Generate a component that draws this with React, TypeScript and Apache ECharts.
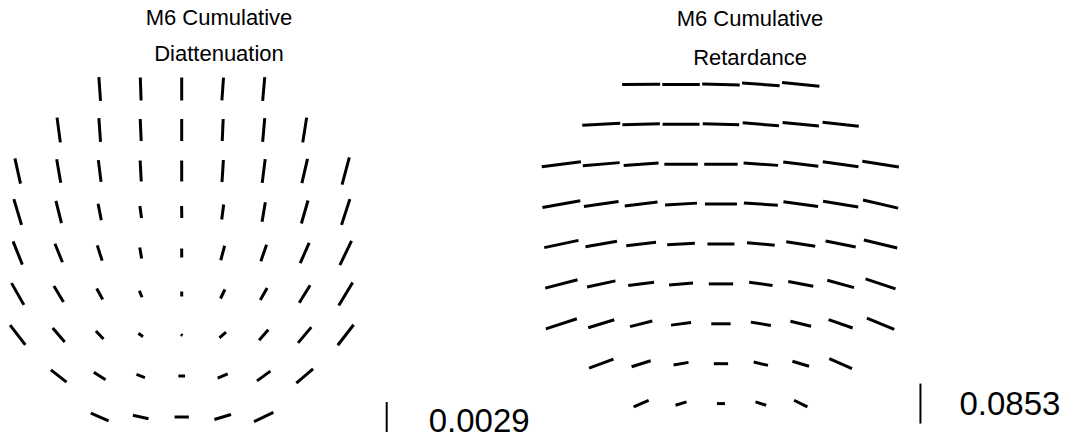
import React, { useEffect, useRef } from "react";
import * as echarts from "echarts";

// Pupil sampling: rows top -> bottom, each row centred on the pupil axis
const rowCounts = [5, 7, 9, 9, 9, 9, 9, 7, 5];

// M6 cumulative diattenuation: magnitude per sample
const diatMag = [
  [0.00232, 0.00222, 0.00222, 0.00222, 0.00232],
  [0.00242, 0.00232, 0.00213, 0.00213, 0.00213, 0.00232, 0.00242],
  [0.00251, 0.00232, 0.00213, 0.00203, 0.00203, 0.00213, 0.00232, 0.00242, 0.00271],
  [0.00261, 0.00222, 0.00164, 0.00116, 0.00116, 0.00145, 0.00193, 0.00232, 0.00261],
  [0.00242, 0.00193, 0.00155, 0.00106, 0.00087, 0.00145, 0.0017, 0.00213, 0.00261],
  [0.00242, 0.00181, 0.00121, 0.00068, 0.00048, 0.00097, 0.00135, 0.00198, 0.00261],
  [0.00242, 0.00178, 0.00106, 0.00055, 0.00019, 0.00084, 0.00135, 0.00199, 0.00251],
  [0.00193, 0.00135, 0.00087, 0.00065, 0.00106, 0.0016, 0.00213],
  [0.00187, 0.00155, 0.00138, 0.00168, 0.00208],
];
// orientation (degrees, counter-clockwise from +x)
const diatAngle = [
  [94, 92, 90, 86, 85],
  [97.6, 94, 92.5, 90, 87.5, 85, 81],
  [102.5, 99.7, 97, 93, 90, 86.5, 83, 77, 75],
  [106.6, 104, 101, 98, 91, 82.5, 80.5, 74, 72],
  [111.8, 112, 107.7, 100, 90, 75, 71, 66, 64.4],
  [119.6, 121, 118.6, 111.8, 90, 64.3, 60.4, 58, 59],
  [127.5, 130.6, 133.8, 144, 150, 40.4, 49, 50, 52.3],
  [141.8, 147, 160, 180, 23.4, 36, 40.7],
  [156.5, 167, 180, 16.7, 25.8],
];

// M6 cumulative retardance: magnitude per sample
const retMag = [
  [0.081, 0.08, 0.08, 0.08, 0.08],
  [0.081, 0.08, 0.0789, 0.0778, 0.0778, 0.0778, 0.0778],
  [0.0842, 0.0789, 0.0746, 0.0714, 0.0714, 0.0736, 0.0753, 0.0768, 0.0789],
  [0.0821, 0.0746, 0.0704, 0.0682, 0.0682, 0.0725, 0.0746, 0.0759, 0.0768],
  [0.0746, 0.0682, 0.064, 0.0591, 0.0576, 0.0593, 0.0625, 0.0653, 0.0731],
  [0.0712, 0.0618, 0.0554, 0.0512, 0.0518, 0.0503, 0.0542, 0.0591, 0.0674],
  [0.0695, 0.058, 0.049, 0.0431, 0.0412, 0.0433, 0.0454, 0.0542, 0.0631],
  [0.0554, 0.0426, 0.0324, 0.0305, 0.0313, 0.0371, 0.0529],
  [0.035, 0.0245, 0.0171, 0.0239, 0.0318],
];
const retAngle = [
  [0.5, 0, -1.5, -4, -6],
  [3, 1.5, 0, -1.5, -4.5, -5.5, -6.5],
  [7.3, 4.9, 4.1, 0, 0, -3.9, -7, -8, -9],
  [10.2, 8.2, 7, 3.5, 0, -4, -8, -9.2, -13],
  [12, 10, 7, 3.4, 0, -4.8, -8.5, -11.3, -13.5],
  [14.5, 12, 7.4, 4.8, 0, -8, -10.6, -15.4, -18.4],
  [17.9, 17.1, 14.2, 7.6, 0, -9.5, -13.6, -19.1, -22.5],
  [20.3, 17.5, 10, 0, -13, -16.7, -23.8],
  [24, 16.9, 0, -17.4, -26.6],
];

const diatScale = 0.0029;
const retScale = 0.0853;
const diatTitle = ["M6 Cumulative", "Diattenuation"];
const retTitle = ["M6 Cumulative", "Retardance"];

const FONT = "'Liberation Sans', Arial, Helvetica, sans-serif";

function buildData(mag: number[][], ang: number[][]) {
  const out: number[][] = [];
  mag.forEach((row, r) => {
    const n = rowCounts[r];
    row.forEach((m, c) => {
      out.push([c - (n - 1) / 2, 4 - r, m, ang[r][c]]);
    });
  });
  return out;
}

function segRender(scaleVal: number, unitLen: number) {
  return (_params: any, api: any) => {
    const x = api.value(0);
    const y = api.value(1);
    const m = api.value(2);
    const a = (api.value(3) * Math.PI) / 180;
    const h = ((m / scaleVal) * unitLen) / 2;
    const p1 = api.coord([x - h * Math.cos(a), y - h * Math.sin(a)]);
    const p2 = api.coord([x + h * Math.cos(a), y + h * Math.sin(a)]);
    return {
      type: "line",
      shape: { x1: p1[0], y1: p1[1], x2: p2[0], y2: p2[1] },
      style: { stroke: "#000", lineWidth: 3, lineCap: "butt" },
    };
  };
}

function legendRender(scaleVal: number, unitLen: number, textDx: number, textDy: number) {
  return (_params: any, api: any) => {
    const x = api.value(0);
    const y = api.value(1);
    const h = unitLen / 2;
    const p1 = api.coord([x, y - h]);
    const p2 = api.coord([x, y + h]);
    const c = api.coord([x, y]);
    return {
      type: "group",
      children: [
        {
          type: "line",
          shape: { x1: p1[0], y1: p1[1], x2: p2[0], y2: p2[1] },
          style: { stroke: "#000", lineWidth: 2 },
        },
        {
          type: "text",
          x: c[0] + textDx,
          y: c[1] + textDy,
          style: {
            text: String(scaleVal),
            font: `33px ${FONT}`,
            fill: "#000",
            align: "left",
            verticalAlign: "middle",
          },
        },
      ],
    };
  };
}

export default function App() {
  const ref = useRef<HTMLDivElement>(null);
  useEffect(() => {
    document.body.style.margin = "0";
    const chart = echarts.init(ref.current!, undefined, { renderer: "svg" });
    const diatUnit = 30 / 41;
    const retUnit = 40 / 39.9;
    const titleText = (t: string, x: number, y: number) => ({
      type: "text",
      x,
      y,
      style: {
        text: t,
        font: `22px ${FONT}`,
        fill: "#000",
        align: "center",
        verticalAlign: "middle",
      },
    });
    chart.setOption({
      animation: false,
      backgroundColor: "#fff",
      grid: [
        { left: 1.3, top: 68.5, width: 426.4, height: 369 },
        { left: 541.4, top: 64.45, width: 418.95, height: 359.1 },
      ],
      xAxis: [
        { type: "value", gridIndex: 0, min: -4.4, max: 6, show: false },
        { type: "value", gridIndex: 1, min: -4.5, max: 6, show: false },
      ],
      yAxis: [
        { type: "value", gridIndex: 0, min: -4.5, max: 4.5, show: false },
        { type: "value", gridIndex: 1, min: -4.5, max: 4.5, show: false },
      ],
      graphic: [
        titleText(diatTitle[0], 219, 17),
        titleText(diatTitle[1], 219, 53),
        titleText(retTitle[0], 750, 18),
        titleText(retTitle[1], 750, 57),
      ],
      series: [
        {
          type: "custom",
          xAxisIndex: 0,
          yAxisIndex: 0,
          renderItem: segRender(diatScale, diatUnit),
          data: buildData(diatMag, diatAngle),
          silent: true,
        },
        {
          type: "custom",
          xAxisIndex: 1,
          yAxisIndex: 1,
          renderItem: segRender(retScale, retUnit),
          data: buildData(retMag, retAngle),
          silent: true,
        },
        {
          type: "custom",
          xAxisIndex: 0,
          yAxisIndex: 0,
          renderItem: legendRender(diatScale, diatUnit, 42, 3),
          data: [[5, -4]],
          silent: true,
        },
        {
          type: "custom",
          xAxisIndex: 1,
          yAxisIndex: 1,
          renderItem: legendRender(retScale, retUnit, 39, 0),
          data: [[5, -4]],
          silent: true,
        },
      ],
    });
    return () => chart.dispose();
  }, []);
  return (
    <div
      ref={ref}
      style={{ position: "absolute", left: 0, top: 0, width: 1074, height: 439 }}
    />
  );
}
